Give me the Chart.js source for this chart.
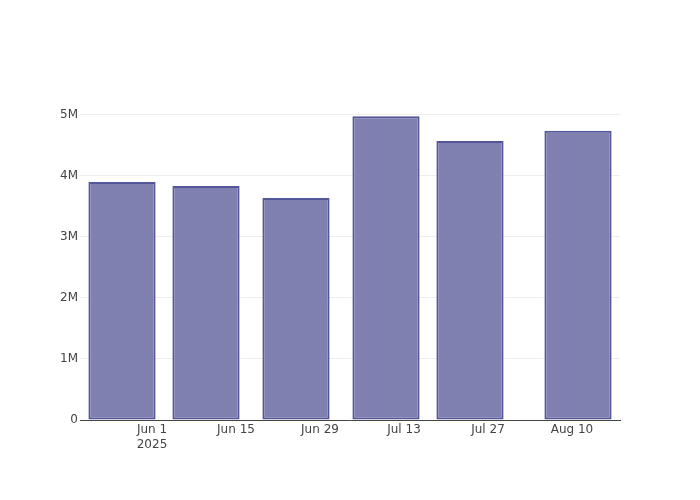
<!DOCTYPE html>
<html>
<head>
<meta charset="utf-8">
<script src="https://cdn.jsdelivr.net/npm/chart.js@4"></script>
<style>
  html, body { margin: 0; padding: 0; background: #fff; }
  #wrap { width: 700px; height: 500px; }
</style>
</head>
<body>
<div id="wrap"><canvas id="myChart" width="700" height="500"></canvas></div>
<script>
// bar dates and values
var barDates = ["2025-05-27", "2025-06-10", "2025-06-25", "2025-07-10", "2025-07-24", "2025-08-11"];
var barValues = [3900000, 3835000, 3640000, 4980000, 4575000, 4740000];
var tickDates = ["2025-06-01", "2025-06-15", "2025-06-29", "2025-07-13", "2025-07-27", "2025-08-10"];
var xStart = "2025-05-20";
var xEnd = "2025-08-18";
var yMax = 5245000;

var monthNames = ["Jan", "Feb", "Mar", "Apr", "May", "Jun", "Jul", "Aug", "Sep", "Oct", "Nov", "Dec"];

function toDay(s) {
    var p = s.split("-");
    return Date.UTC(+p[0], +p[1] - 1, +p[2]) / 86400000;
}

var points = [];
barDates.forEach(function (d, i) {
    points.push({ x: toDay(d), y: barValues[i] });
});
var tickDays = tickDates.map(toDay);

Chart.defaults.font.family = "'DejaVu Sans', sans-serif";
Chart.defaults.font.size = 12;
Chart.defaults.color = "#444";

new Chart("myChart", {
    type: "bar",
    data: {
        datasets: [{
            data: points,
            backgroundColor: "#7f7fb0",
            borderColor: "#55559a",
            borderWidth: 2,
            borderSkipped: false,
            barPercentage: 1.0,
            categoryPercentage: 0.8
        }]
    },
    options: {
        responsive: false,
        animation: false,
        layout: { padding: { top: 100, right: 80, left: 0, bottom: 0 } },
        plugins: {
            legend: { display: false },
            tooltip: { enabled: false }
        },
        scales: {
            x: {
                type: "linear",
                offset: false,
                min: toDay(xStart),
                max: toDay(xEnd),
                grid: { display: false, drawTicks: false },
                border: { display: true, color: "#444", width: 1 },
                afterBuildTicks: function (scale) {
                    scale.ticks = tickDays.map(function (v) { return { value: v }; });
                },
                afterFit: function (scale) { scale.height = 80; },
                ticks: {
                    autoSkip: false,
                    maxRotation: 0,
                    padding: 3,
                    callback: function (v, idx) {
                        var d = new Date(v * 86400000);
                        var lbl = monthNames[d.getUTCMonth()] + " " + d.getUTCDate();
                        if (idx === 0) return [lbl, String(d.getUTCFullYear())];
                        return lbl;
                    }
                }
            },
            y: {
                min: 0,
                max: yMax,
                grid: { color: "#eeeeee", drawTicks: false },
                border: { display: false },
                afterFit: function (scale) { scale.width = 80; },
                afterBuildTicks: function (scale) {
                    var t = [];
                    for (var v = 0; v <= 5000000; v += 1000000) t.push({ value: v });
                    scale.ticks = t;
                },
                ticks: {
                    padding: 2,
                    callback: function (v) {
                        return v === 0 ? "0" : (v / 1000000) + "M";
                    }
                }
            }
        }
    }
});
</script>
</body>
</html>
